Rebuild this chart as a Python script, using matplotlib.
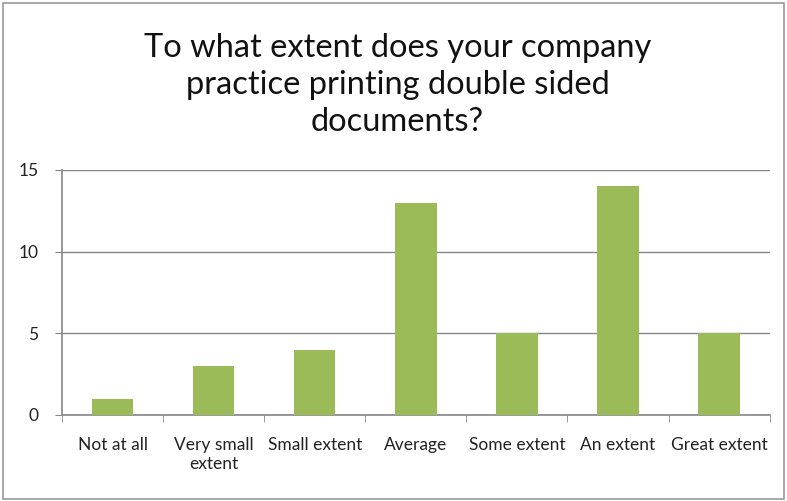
import matplotlib.pyplot as plt
from matplotlib.patches import Rectangle

categories = ['Not at all', 'Very small\nextent', 'Small extent', 'Average',
              'Some extent', 'An extent', 'Great extent']
counts = [1, 3, 4, 13, 5, 14, 5]
yticks = [0, 5, 10, 15]

plt.rcParams['font.family'] = ['Lato', 'DejaVu Sans']

fig = plt.figure(figsize=(7.87, 5.01), dpi=100)
ax = fig.add_axes([0.0788, 0.1717, 0.8992, 0.489])

x = list(range(len(categories)))
ax.bar(x, counts, width=0.41, color='#9BBB59', zorder=3)

ax.set_xlim(-0.5, len(categories) - 0.5)
ax.set_ylim(0, 15)
ax.set_yticks(yticks)
ax.yaxis.grid(True, color='#868686', linewidth=1)
ax.set_axisbelow(True)

ax.set_xticks(x)
ax.set_xticklabels(categories, fontsize=12.5, color='#222222', linespacing=1.25)
ax.set_xticks([i - 0.5 for i in range(len(categories) + 1)], minor=True)
ax.tick_params(axis='x', which='major', length=0, pad=16)
ax.tick_params(axis='x', which='minor', length=5, color='#868686')
ax.tick_params(axis='y', length=5, color='#868686', labelsize=12.5, labelcolor='#222222', pad=12)

for s in ['top', 'right']:
    ax.spines[s].set_visible(False)
for s in ['left', 'bottom']:
    ax.spines[s].set_color('#868686')
    ax.spines[s].set_linewidth(1.2)

fig.text(0.505, 0.83, 'To what extent does your company\npractice printing double sided\ndocuments?',
         ha='center', va='center', fontsize=23.5, linespacing=1.3, color='#111111')

fig.patches.append(Rectangle((0.004, 0.004), 0.992, 0.99, transform=fig.transFigure,
                             fill=False, edgecolor='#9a9a9a', linewidth=1.2))

plt.savefig('out.png', dpi=100)
